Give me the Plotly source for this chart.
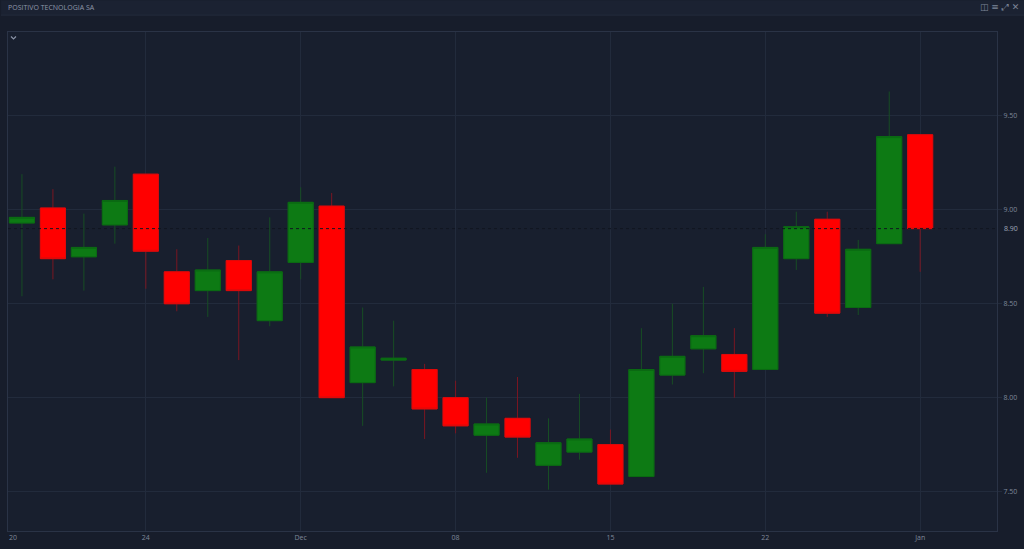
import plotly.graph_objects as go

title = "POSITIVO TECNOLOGIA SA"
opens  = [8.93, 9.01, 8.75, 8.92, 9.19, 8.67, 8.57, 8.73, 8.41, 8.72,
          9.02, 8.08, 8.20, 8.15, 8.00, 7.80, 7.89, 7.64, 7.71, 7.75,
          7.58, 8.12, 8.26, 8.23, 8.15, 8.74, 8.95, 8.48, 8.82, 9.40]
highs  = [9.19, 9.11, 8.98, 9.23, 9.19, 8.79, 8.85, 8.81, 8.96, 9.12,
          9.09, 8.48, 8.41, 8.18, 8.09, 8.00, 8.11, 7.89, 8.02, 7.83,
          8.37, 8.50, 8.59, 8.37, 8.87, 8.99, 8.99, 8.84, 9.63, 9.40]
lows   = [8.54, 8.63, 8.57, 8.82, 8.58, 8.46, 8.43, 8.20, 8.38, 8.63,
          8.00, 7.85, 8.06, 7.78, 7.81, 7.60, 7.68, 7.51, 7.67, 7.54,
          7.58, 8.07, 8.13, 8.00, 8.15, 8.68, 8.43, 8.44, 8.82, 8.67]
closes = [8.96, 8.74, 8.80, 9.05, 8.78, 8.50, 8.68, 8.57, 8.67, 9.04,
          8.00, 8.27, 8.21, 7.94, 7.85, 7.86, 7.79, 7.76, 7.78, 7.54,
          8.15, 8.22, 8.33, 8.14, 8.80, 8.91, 8.45, 8.79, 9.39, 8.90]
x_tick_pos = [4, 9, 14, 19, 24, 29]
x_tick_labels = ["24", "Dec", "08", "15", "22", "Jan"]
first_label = "20"
y_ticks = [7.5, 8.0, 8.5, 9.0, 9.5]
y_tick_labels = ["7.50", "8.00", "8.50", "9.00", "9.50"]

xs = list(range(len(opens)))
body_hi = [max(o, c) for o, c in zip(opens, closes)]
body_lo = [min(o, c) for o, c in zip(opens, closes)]

BG = "#181f2e"
GRID = "#222b3c"
TXT = "#7f889a"
GREEN = "#0d7a14"
RED = "#ff0000"

fig = go.Figure()
# wicks
fig.add_trace(go.Candlestick(
    x=xs, open=opens, high=highs, low=lows, close=closes,
    increasing=dict(line=dict(color="#174d24", width=1), fillcolor=GREEN),
    decreasing=dict(line=dict(color="#7a1622", width=1), fillcolor=RED),
    whiskerwidth=0, showlegend=False, hoverinfo="skip"))
# bodies
fig.add_trace(go.Candlestick(
    x=xs, open=opens, high=body_hi, low=body_lo, close=closes,
    increasing=dict(line=dict(color="#0b6a13", width=1), fillcolor=GREEN),
    decreasing=dict(line=dict(color="#e00a0a", width=1), fillcolor=RED),
    whiskerwidth=0, showlegend=False, hoverinfo="skip"))

last = closes[-1]
fig.add_shape(type="line", xref="paper", x0=0, x1=1, yref="y", y0=last, y1=last,
              line=dict(color="#111621", width=1, dash="dot"), layer="above")

fig.update_layout(
    width=1024, height=549,
    margin=dict(l=7, r=27, t=32, b=14),
    paper_bgcolor="#171d2b", plot_bgcolor=BG,
    boxgap=0.19, boxgroupgap=0, boxmode="overlay",
    font=dict(family="Open Sans", size=7, color=TXT),
    xaxis=dict(range=[-0.45, 31.48], rangeslider=dict(visible=False),
               tickmode="array", tickvals=x_tick_pos, ticktext=x_tick_labels,
               showgrid=True, gridcolor=GRID, gridwidth=1, zeroline=False,
               showline=True, linecolor="#2a3346", mirror=True,
               ticks="", tickfont=dict(size=7, color=TXT)),
    yaxis=dict(range=[7.29, 9.947], side="right",
               tickmode="array", tickvals=y_ticks, ticktext=y_tick_labels,
               showgrid=True, gridcolor=GRID, gridwidth=1, zeroline=False,
               showline=True, linecolor="#2a3346", mirror=True,
               ticks="outside", ticklen=4, tickcolor=GRID,
               tickfont=dict(size=7, color=TXT)),
    shapes=list(fig.layout.shapes) + [
        dict(type="rect", xref="paper", yref="paper", x0=-7/990, x1=1+27/990,
             y0=1+17/503, y1=1+32/503, fillcolor="#1b2232",
             line=dict(width=0), layer="below"),
        dict(type="line", xref="paper", yref="paper", x0=-7/990, x1=1+27/990,
             y0=1+17/503, y1=1+17/503, line=dict(color="#232b3b", width=1)),
        dict(type="path", xref="paper", yref="paper",
             path="M %f %f L %f %f L %f %f" % (3/990, 1-4.5/503, 5.5/990, 1-7/503, 8/990, 1-4.5/503),
             line=dict(color="#8a93a6", width=1.2)),
    ],
    annotations=[
        dict(text=title, xref="paper", yref="paper", x=-2/990, y=1+25/503,
             xanchor="left", yanchor="middle", showarrow=False,
             font=dict(size=7, color="#8f98aa")),
        dict(text=first_label, xref="paper", yref="paper", x=5/990, y=-7/503,
             xanchor="center", yanchor="middle", showarrow=False,
             font=dict(size=7, color=TXT)),
        dict(text=f"{last:.2f}", xref="paper", yref="y", x=1+5/990, y=last,
             xanchor="left", yanchor="middle", showarrow=False,
             font=dict(size=7, color="#a0a8b8")),
        dict(text="◫ ≡ ⤢ ✕", xref="paper", yref="paper", x=1+24/990, y=1+25/503,
             xanchor="right", yanchor="middle", showarrow=False,
             font=dict(family="DejaVu Sans", size=9, color="#7d8699")),
    ],
)

fig.write_html("out.html", config={"displayModeBar": False, "staticPlot": True},
               post_script="document.body.style.margin='0';document.body.style.overflow='hidden';document.body.style.background='#171d2b';")
